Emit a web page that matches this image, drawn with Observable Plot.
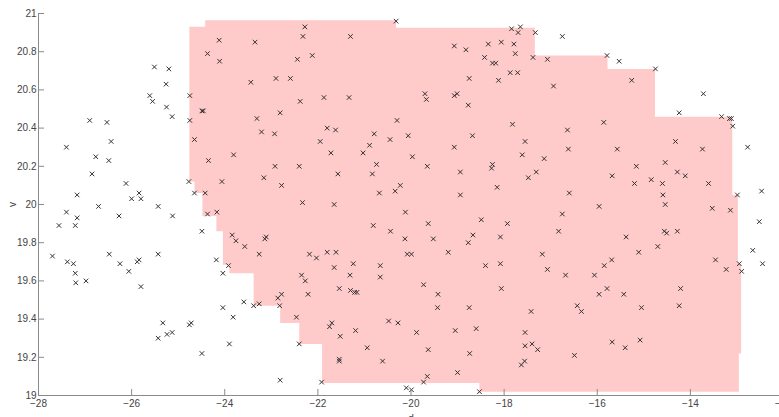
<!DOCTYPE html>
<html>
<head>
<meta charset="utf-8">
<script src="https://cdn.jsdelivr.net/npm/d3@7"></script>
<script src="https://cdn.jsdelivr.net/npm/@observablehq/plot@0.6"></script>
<style>
  html, body { margin: 0; padding: 0; overflow: hidden; background: #fff; }
</style>
</head>
<body>
<div id="chart"></div>
<script>
// Scatter points: d (x) and v (y)
const dValues = [
-25.51,-25.20,-25.26,-25.61,-25.55,-25.25,-25.13,-24.75,-24.75,-24.49,-24.46,-24.65,-24.35,-23.81,-24.06,-24.77,-24.65,-24.42,-24.12,-24.37,
-24.11,-23.35,-23.44,-23.31,-26.90,-26.53,-26.44,-27.40,-26.77,-26.49,-26.85,-26.12,-27.17,-26.00,-25.84,-25.80,-26.71,-25.43,-27.40,-27.17,
-27.56,-27.21,-26.27,-25.12,-24.37,-24.17,-24.49,-23.84,-23.76,-23.57,-23.26,-27.70,-26.48,-25.43,-27.38,-27.25,-26.25,-25.88,-25.84,-24.18,
-23.92,-24.04,-27.21,-27.20,-26.98,-26.06,-25.80,-23.59,-23.38,-23.26,-24.04,-23.82,-25.33,-25.43,-25.24,-25.13,-24.76,-24.72,-24.49,-23.90,
-23.16,-22.78,-21.57,-22.33,-21.65,-23.14,-23.11,-22.18,-22.03,-21.80,-21.61,-21.65,-21.31,-22.35,-22.27,-22.78,-22.86,-22.21,-21.54,-22.82,
-22.46,-21.70,-21.75,-21.52,-21.54,-21.54,-22.40,-22.81,-21.92,-22.28,-22.32,-21.30,-22.44,-22.12,-20.32,-22.90,-22.59,-22.38,-21.87,-21.33,
-22.81,-23.21,-22.93,-21.80,-21.62,-21.95,-21.72,-20.79,-20.89,-21.03,-20.45,-20.06,-20.30,-19.97,-20.74,-20.83,-22.92,-22.40,-20.68,-20.34,
-20.23,-19.65,-19.70,-19.67,-19.07,-18.82,-19.07,-19.01,-18.75,-18.77,-18.68,-19.07,-18.94,-18.94,-18.25,-18.27,-18.15,-17.82,-18.42,-18.34,
-18.06,-17.79,-18.25,-18.18,-17.76,-18.12,-17.87,-17.71,-17.84,-17.70,-17.65,-17.33,-17.38,-17.07,-16.75,-15.79,-15.53,-14.75,-16.94,-15.26,
-13.72,-14.24,-13.33,-13.16,-13.12,-13.09,-12.77,-16.64,-15.86,-17.55,-17.61,-17.14,-16.62,-15.57,-14.32,-13.74,-17.31,-17.48,-15.16,-14.54,
-15.68,-15.20,-14.84,-14.60,-14.28,-14.11,-13.61,-16.60,-14.59,-14.54,-15.96,-13.53,-13.14,-12.99,-12.47,-12.52,-15.38,-14.56,-14.51,-14.28,
-15.11,-14.70,-13.46,-13.23,-12.95,-12.90,-12.66,-12.45,-15.43,-14.21,-15.05,-14.24,-15.08,-15.40,-16.75,-16.83,-17.18,-17.07,-16.68,-16.06,
-15.85,-15.69,-15.79,-15.96,-17.42,-16.43,-16.34,-17.55,-17.55,-17.40,-17.28,-15.68,-16.49,-17.56,-17.63,-20.12,-20.81,-20.44,-19.63,-18.49,
-17.93,-20.13,-19.52,-18.67,-18.77,-18.08,-20.08,-19.99,-19.20,-18.40,-18.08,-21.24,-20.66,-20.66,-19.73,-19.42,-18.06,-21.30,-21.21,-21.16,
-19.43,-18.75,-21.19,-20.48,-20.28,-19.88,-19.05,-18.60,-20.94,-19.63,-18.74,-20.61,-19.00,-19.65,-19.73,-20.10,-19.99,-18.53
];
const vValues = [
20.72,20.71,20.63,20.57,20.54,20.51,20.46,20.57,20.44,20.49,20.49,20.34,20.23,20.26,20.12,20.12,20.06,20.06,20.86,20.79,
20.75,20.85,20.64,20.45,20.44,20.43,20.33,20.30,20.25,20.23,20.16,20.11,20.05,20.03,20.06,20.03,19.99,19.99,19.96,19.93,
19.89,19.89,19.94,19.94,19.95,19.96,19.86,19.84,19.81,19.78,19.74,19.73,19.74,19.74,19.70,19.69,19.69,19.70,19.71,19.71,
19.68,19.64,19.64,19.59,19.60,19.65,19.57,19.49,19.47,19.48,19.46,19.41,19.38,19.30,19.32,19.33,19.37,19.38,19.22,19.27,
20.14,20.10,20.16,20.01,20.00,19.82,19.83,19.74,19.72,19.75,19.75,19.67,19.63,19.63,19.60,19.53,19.51,19.53,19.56,19.47,
19.41,19.38,19.36,19.31,19.19,19.18,19.27,19.08,19.07,20.93,20.88,20.88,20.76,20.78,20.96,20.66,20.66,20.54,20.56,20.56,
20.48,20.38,20.37,20.40,20.39,20.33,20.27,20.37,20.31,20.27,20.34,20.36,20.44,20.25,20.21,20.16,20.20,20.20,20.06,20.07,
20.10,20.20,20.58,20.55,20.83,20.81,20.57,20.58,20.66,20.52,20.36,20.30,20.17,20.05,20.21,20.19,20.09,20.42,20.77,20.84,
20.85,20.84,20.74,20.74,20.79,20.65,20.69,20.69,20.92,20.90,20.93,20.90,20.77,20.76,20.88,20.78,20.75,20.71,20.62,20.65,
20.58,20.48,20.46,20.45,20.45,20.41,20.30,20.39,20.43,20.33,20.26,20.24,20.29,20.29,20.33,20.29,20.17,20.14,20.20,20.22,
20.15,20.11,20.13,20.11,20.17,20.15,20.11,20.06,20.05,20.00,19.99,19.98,19.97,20.05,20.07,19.91,19.83,19.86,19.85,19.86,
19.75,19.78,19.71,19.66,19.69,19.65,19.76,19.69,19.53,19.56,19.46,19.47,19.29,19.25,19.95,19.86,19.74,19.66,19.63,19.63,
19.68,19.71,19.56,19.53,19.44,19.47,19.44,19.33,19.26,19.27,19.24,19.28,19.21,19.18,19.16,19.96,19.89,19.86,19.90,19.92,
19.90,19.82,19.82,19.84,19.80,19.83,19.74,19.74,19.75,19.68,19.69,19.69,19.68,19.62,19.58,19.53,19.56,19.55,19.54,19.54,
19.46,19.46,19.34,19.39,19.38,19.33,19.34,19.35,19.25,19.24,19.22,19.18,19.12,19.10,19.07,19.04,19.03,19.02
];

// Shaded region outline (stepped polygon)
const regionD = [
-24.76,-24.42,-24.42,-20.32,-20.32,-17.34,-17.34,-15.78,-15.78,-14.76,-14.76,-13.10,-13.10,-12.98,-12.98,-12.91,-12.91,-12.96,-12.96,-18.53,
-18.53,-21.91,-21.91,-22.40,-22.40,-22.81,-22.81,-23.38,-23.38,-23.90,-23.90,-24.04,-24.04,-24.18,-24.18,-24.48,-24.48,-24.65,-24.65,-24.76,-24.76
];
const regionV = [
20.93,20.93,20.965,20.965,20.925,20.925,20.78,20.78,20.71,20.71,20.46,20.46,20.05,20.05,19.69,19.69,19.22,19.22,19.02,19.02,
19.065,19.065,19.27,19.27,19.38,19.38,19.47,19.47,19.64,19.64,19.685,19.685,19.86,19.86,19.94,19.94,20.06,20.06,20.12,20.12,20.93
];

const xTicks = [-28, -26, -24, -22, -20, -18, -16, -14, -12];
const yTicks = [19, 19.2, 19.4, 19.6, 19.8, 20, 20.2, 20.4, 20.6, 20.8, 21];

const points = dValues.map((d, i) => ({d, v: vValues[i]}));
const region = regionD.map((d, i) => ({d, v: regionV[i]}));

const axisColor = "#8a8a8a";
const textColor = "#444";
const W = 779, H = 432, ML = 38, MR = -4, MT = 13, MB = 37;
const tickLen = 6;
const fmt = d3.format("~g");

const chart = Plot.plot({
  width: W,
  height: H,
  marginLeft: ML,
  marginRight: MR,
  marginTop: MT,
  marginBottom: MB,
  style: {
    fontFamily: "'Liberation Sans', Arial, sans-serif",
    fontSize: "10px",
    color: textColor,
    background: "white",
    overflow: "visible"
  },
  x: {domain: [-28, -12]},
  y: {domain: [19, 21]},
  marks: [
    Plot.line(region, {x: "d", y: "v", fill: "#ffcaca", stroke: "none"}),
    Plot.dot(points, {x: "d", y: "v", symbol: "times", r: 2.2, stroke: "#333", strokeWidth: 1}),
    // inward tick marks
    Plot.ruleX(xTicks, {stroke: axisColor, insetTop: (H - MT - MB) - tickLen}),
    Plot.ruleY(yTicks, {stroke: axisColor, insetRight: (W - ML - MR) - tickLen}),
    // axis lines
    Plot.ruleY([19], {stroke: axisColor}),
    Plot.ruleX([-28], {stroke: axisColor}),
    Plot.axisX({ticks: xTicks, tickSize: 0, tickPadding: 4, tickFormat: fmt, fill: textColor,
      label: "d", labelAnchor: "center", labelArrow: "none", labelOffset: 26, fontSize: 10}),
    Plot.axisY({ticks: yTicks, tickSize: 0, tickPadding: 2, tickFormat: fmt, fill: textColor,
      label: "v", labelAnchor: "center", labelArrow: "none", labelOffset: 30, fontSize: 10})
  ]
});
document.getElementById("chart").appendChild(chart);
</script>
</body>
</html>
